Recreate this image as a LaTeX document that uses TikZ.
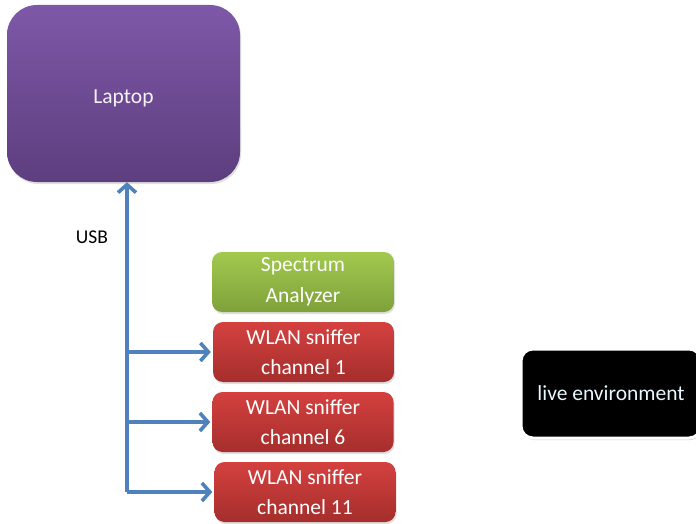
\documentclass[tikz,border=0pt]{standalone}
\usepackage{fontspec}
\setmainfont{Carlito}
\usetikzlibrary{arrows.meta,shadows}
\definecolor{arrowblue}{HTML}{4F81BD}
\definecolor{purpletop}{HTML}{7E58A8}
\definecolor{purplebot}{HTML}{5D3E7E}
\definecolor{greentop}{HTML}{A3C94F}
\definecolor{greenbot}{HTML}{7EA13A}
\definecolor{redtop}{HTML}{D4413F}
\definecolor{redbot}{HTML}{A52E2C}
\tikzset{
  box/.style={rounded corners=10pt, text=white, align=center, font=\fontsize{21.5}{30.5}\selectfont,
    drop shadow={opacity=0.25, shadow xshift=1pt, shadow yshift=-2pt}},
  laptopbox/.style={box, rounded corners=30pt, top color=purpletop, bottom color=purplebot,
    minimum width=233pt, minimum height=177pt, text=white!92!purpletop, text height=23pt},
  greenbox/.style={box, top color=greentop, bottom color=greenbot, minimum width=182pt, minimum height=60pt},
  redbox/.style={box, top color=redtop, bottom color=redbot, minimum width=181pt, minimum height=60pt},
  livebox/.style={rounded corners=12pt, fill=black, draw=white, line width=3pt, text=white!90!cyan,
    minimum width=180pt, minimum height=89pt, font=\fontsize{21.5}{24}\selectfont,
    drop shadow={opacity=0.35, shadow xshift=1pt, shadow yshift=-2pt}},
  arr/.style={draw=arrowblue, line width=3.6pt, -{Straight Barb[length=8pt,width=18pt,line width=3.6pt]}},
  lbl/.style={font=\fontsize{19.5}{22}\selectfont, text=black}
}
\begin{document}
\begin{tikzpicture}[x=1pt,y=-1pt]
\useasboundingbox (0,0) rectangle (696,524);
\fill[white] (0,0) rectangle (696,524);
\node[laptopbox] (laptop) at (123.5,93.5) {Laptop};
\node[greenbox] (spec) at (303,282) {Spectrum\\Analyzer};
\node[redbox] (w1) at (303.5,352) {WLAN sniffer\\channel 1};
\node[redbox] (w6) at (303,422) {WLAN sniffer\\channel 6};
\node[redbox] (w11) at (305,492) {WLAN sniffer\\channel 11};
\node[livebox] (live) at (611,393.5) {live environment};
\node[lbl] (usb) at (92,237) {USB};
\coordinate (bus) at (127,492);
\draw[arr] (bus) -- (bus |- laptop.south);
\draw[arr, shorten >=2pt] (bus |- w1.west) -- (w1.west);
\draw[arr, shorten >=2pt] (bus |- w6.west) -- (w6.west);
\draw[arr, shorten >=2pt] (bus) -- (w11.west);
\end{tikzpicture}
\end{document}
